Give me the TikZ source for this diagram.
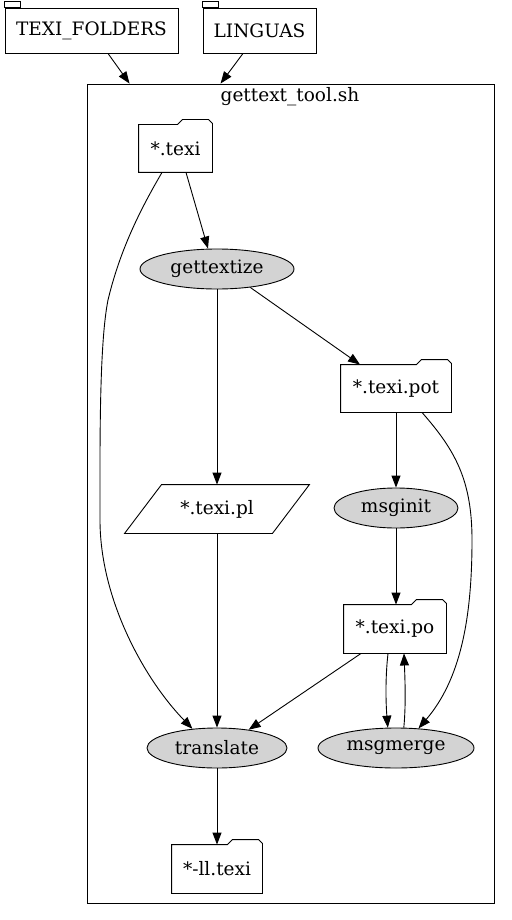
\documentclass[tikz,border=0pt]{standalone}
\usepackage{fontspec}
\setmainfont{DejaVu Serif}
\usetikzlibrary{arrows.meta, calc, positioning, shapes.geometric}
\definecolor{procgray}{HTML}{D3D3D3}

\tikzset{
    tabbox/.style={rectangle, draw, minimum height=45pt, inner sep=0pt},
    folder/.style={rectangle, minimum height=47pt, inner sep=0pt},
    proc/.style={ellipse, draw, fill=procgray, minimum height=40pt, inner sep=0pt},
    para/.style={rectangle, minimum height=48pt, minimum width=147pt, inner sep=0pt},
}

% outline of a folder node (tab at the top right)
\newcommand{\folderline}[1]{%
  \draw (#1.south west) -- (#1.north west) -- ($(#1.north east)+(-35,0)$)
    -- ($(#1.north east)+(-30,-5)$) -- ($(#1.north east)+(-4,-5)$)
    -- ($(#1.north east)+(0,-1)$) -- (#1.south east) -- cycle;}
% small tab at the top left of a tab node
\newcommand{\tabline}[1]{%
  \draw (#1.north west) rectangle ($(#1.north west)+(16,-6)$);}

\begin{document}
\begin{tikzpicture}[
    x=1pt, y=-1pt,
    >={Triangle[length=12pt, width=9pt]},
    every node/.style={font=\fontsize{18.5}{22}\selectfont},
    line width=0.9pt,
]
\useasboundingbox (0,0) rectangle (511,920);

% Inputs
\node[tabbox, minimum width=173pt] (folders) at (91.5, 30.5) {TEXI\_FOLDERS};
\node[tabbox, minimum width=113pt] (linguas) at (259.5, 30.5) {LINGUAS};
\tabline{folders}
\tabline{linguas}

% Cluster
\node[draw, rectangle, minimum width=407pt, minimum height=819pt, inner sep=0pt]
    (tool) at (290.5, 493.5) {};
\node (toollabel) at (290, 97) {gettext\_tool.sh};

% Files
\node[folder, minimum width=73pt] (texi) at (175.5, 148.5) {*.texi};
\node[folder, minimum width=110pt] (pot) at (396, 388.5) {*.texi.pot};
\node[folder, minimum width=102pt, minimum height=48pt] (po) at (395, 629) {*.texi.po};
\node[folder, minimum width=90pt, minimum height=48pt] (lltexi) at (217, 869) {*-ll.texi};
\folderline{texi}
\folderline{pot}
\folderline{po}
\folderline{lltexi}

% Script
\node[para] (pl) at (217, 509) {*.texi.pl};
\draw ($(pl.south west)+(-18.5,0)$) -- ($(pl.south east)+(-18.5,0)$)
    -- ($(pl.north east)+(18.5,0)$) -- ($(pl.north west)+(18.5,0)$) -- cycle;

% Tools
\node[proc, minimum width=154pt] (gettextize) at (217, 269) {gettextize};
\node[proc, minimum width=124pt] (msginit) at (396, 508) {msginit};
\node[proc, minimum width=140pt] (translate) at (217, 748) {translate};
\node[proc, minimum width=156pt] (msgmerge) at (396, 748) {msgmerge};

% Edges
\draw[->] ([xshift=16.5pt]folders.south) -- ([xshift=43pt]tool.north west);
\draw[->] ([xshift=-16.5pt]linguas.south) -- ([xshift=134pt]tool.north west);
\draw[->] ([xshift=10.5pt]texi.south) -- ([xshift=-9pt]gettextize.north);
\draw[->] ([xshift=-13.5pt]texi.south) .. controls (140,210) and (120,250) .. (108,300)
    .. controls (99,345) and (100,450) .. (100,520)
    .. controls (100,600) and (145,680) .. (translate.142);
\draw[->] (gettextize.-29) -- ([xshift=-36pt]pot.north);
\draw[->] (gettextize.south) -- (pl.north);
\draw[->] (pot.south) -- (msginit.north);
\draw[->] ([xshift=26pt]pot.south) .. controls (455,450) and (472,480) .. (472,540)
    .. controls (472,620) and (460,680) .. (msgmerge.41);
\draw[->] (msginit.south) -- (msginit.south |- po.north);
\draw[->] (pl.south) -- (translate.north);
\draw[->] ([xshift=-34pt]po.south) -- (translate.30);
\draw[->] ([xshift=-7pt]po.south) .. controls (385,680) and (386,705) .. (msgmerge.112);
\draw[->] (msgmerge.69) .. controls (406,705) and (405,680) .. ([xshift=9pt]po.south);
\draw[->] (translate.south) -- (lltexi.north);

\end{tikzpicture}
\end{document}
